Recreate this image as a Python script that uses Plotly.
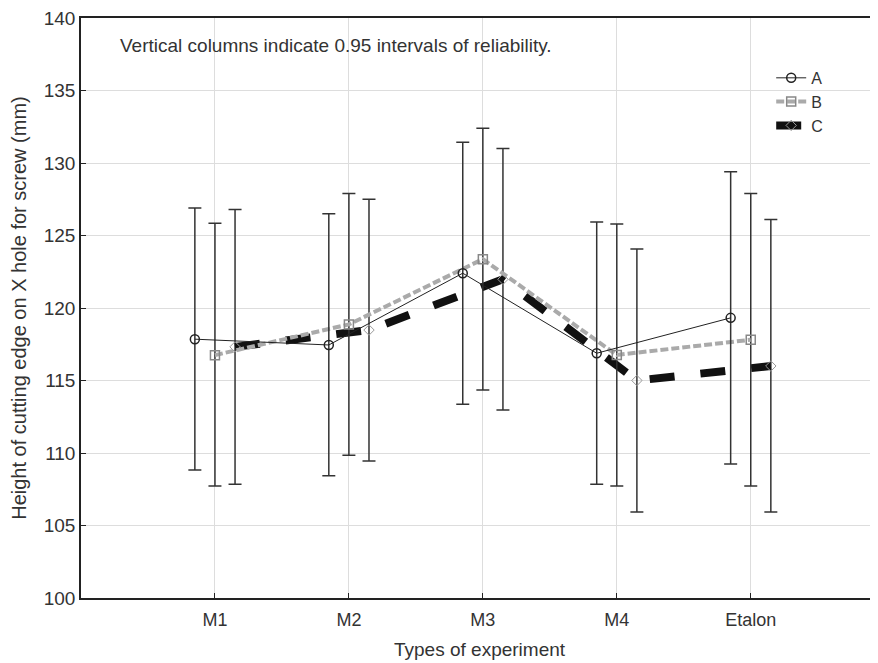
import plotly.graph_objects as go

categories = ["M1", "M2", "M3", "M4", "Etalon"]
series_names = ["A", "B", "C"]
mean_A = [117.85, 117.45, 122.4, 116.88, 119.32]
low_A = [108.83, 108.43, 113.36, 107.84, 109.24]
high_A = [126.9, 126.5, 131.43, 125.93, 129.4]
mean_B = [116.75, 118.87, 123.37, 116.76, 117.81]
low_B = [107.72, 109.84, 114.34, 107.72, 107.72]
high_B = [125.84, 127.9, 132.4, 125.8, 127.9]
mean_C = [117.32, 118.48, 121.98, 115.0, 116.0]
low_C = [107.84, 109.45, 112.97, 105.93, 105.93]
high_C = [126.8, 127.5, 131.0, 124.07, 126.1]
y_ticks = [100, 105, 110, 115, 120, 125, 130, 135, 140]

offsets = [-0.15, 0.0, 0.15]
means = [mean_A, mean_B, mean_C]
lows = [low_A, low_B, low_C]
highs = [high_A, high_B, high_C]
styles = [
    dict(line=dict(color="#222222", width=1), marker=dict(symbol="circle-open", size=9, color="#222222", line=dict(width=1.5))),
    dict(line=dict(color="#aaaaaa", width=4, dash="8px,3px"), marker=dict(symbol="square-open", size=9, color="#888888", line=dict(width=1.5))),
    dict(line=dict(color="#111111", width=8, dash="25px,26px"), marker=dict(symbol="diamond-open", size=8, color="#999999", line=dict(width=1))),
]

fig = go.Figure()
order = [2, 1, 0]
for i in order:
    xs = [k + offsets[i] for k in range(len(categories))]
    m = means[i]
    fig.add_trace(go.Scatter(
        x=xs, y=m, mode="lines+markers", name=series_names[i],
        line=styles[i]["line"], marker=styles[i]["marker"],
        error_y=dict(type="data", symmetric=False,
                     array=[h - v for h, v in zip(highs[i], m)],
                     arrayminus=[v - l for v, l in zip(m, lows[i])],
                     color="#333333", thickness=1.5, width=6.5),
        legendrank=i + 1,
    ))

fig.update_layout(
    width=870, height=655,
    margin=dict(l=73, r=0, t=10, b=65),
    paper_bgcolor="white", plot_bgcolor="white",
    font=dict(family="Liberation Sans, Arial, sans-serif", color="#333333"),
    showlegend=True,
    legend=dict(x=0.866, y=0.926, xanchor="left", yanchor="top",
                font=dict(size=16, color="#333333"), bgcolor="rgba(0,0,0,0)",
                tracegroupgap=0, itemwidth=30),
    xaxis=dict(range=[-1.0, 4.95], tickmode="array", tickvals=list(range(len(categories))),
               ticktext=categories, showgrid=True, gridcolor="#dddddd", gridwidth=1,
               showline=True, linecolor="#222222", linewidth=1.5, mirror=True,
               ticks="inside", ticklen=5, tickcolor="#222222", zeroline=False,
               tickfont=dict(size=18), automargin=False, ticklabelstandoff=5,
               ticklabeloverflow="allow"),
    yaxis=dict(range=[100, 140], tickmode="array", tickvals=y_ticks,
               showgrid=True, gridcolor="#dddddd", gridwidth=1,
               showline=True, linecolor="#222222", linewidth=1.5, mirror=True,
               ticks="inside", ticklen=5, tickcolor="#222222", zeroline=False,
               tickfont=dict(size=19), automargin=False, ticklabeloverflow="allow",
               title=dict(text="Height of cutting edge on X hole for screw (mm)", font=dict(size=20), standoff=15)),
    annotations=[
        dict(text="Vertical columns indicate 0.95 intervals of reliability.",
             xref="paper", yref="paper", x=0.0464, y=0.953, xanchor="left", yanchor="middle",
             showarrow=False, font=dict(size=19, color="#333333")),
        dict(text="Types of experiment", xref="paper", yref="paper", x=0.5, y=-0.088,
             xanchor="center", yanchor="middle", showarrow=False,
             font=dict(size=19, color="#333333")),
    ],
)

fig.write_html("out.html")
